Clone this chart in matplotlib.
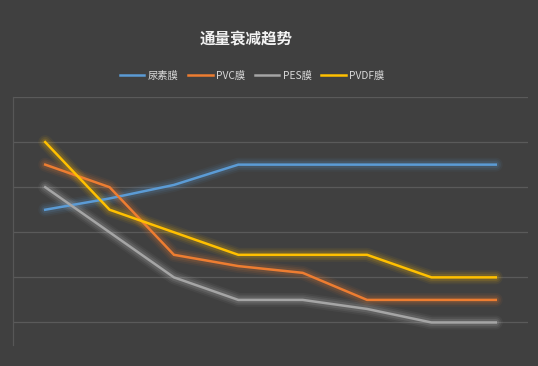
import matplotlib
matplotlib.use("Agg")
import matplotlib.pyplot as plt
import numpy as np

plt.rcParams['font.family'] = ['Noto Sans CJK SC', 'DejaVu Sans']

categories = ['1', '2', '3', '4', '5', '6', '7', '8']
series_names = ['尿素膜', 'PVC膜', 'PES膜', 'PVDF膜']
urea = [2.5, 2.75, 3.05, 3.5, 3.5, 3.5, 3.5, 3.5]
pvc = [3.5, 3.0, 1.5, 1.25, 1.1, 0.5, 0.5, 0.5]
pes = [3.0, 2.0, 1.0, 0.5, 0.5, 0.3, 0.0, 0.0]
pvdf = [4.0, 2.5, 2.0, 1.5, 1.5, 1.5, 1.0, 1.0]
colors = ['#5B9BD5', '#ED7D31', '#A5A5A5', '#FFC000']
glow_colors = ['#5B9BD5', '#ED7D31', '#C8C8C8', '#FFC000']

bg = '#404040'
fig = plt.figure(figsize=(5.38, 3.66), dpi=100, facecolor=bg)
ax = fig.add_axes([13/538, 1-345/366, (528-13)/538, (345-97)/366])
ax.set_facecolor(bg)

x = np.arange(len(categories))
handles = []
for vals, c, gc, name in zip([urea, pvc, pes, pvdf], colors, glow_colors, series_names):
    for lw, a in [(10, 0.06), (7.5, 0.09), (5, 0.13)]:
        ax.plot(x, vals, color=gc, lw=lw, alpha=a, solid_capstyle='round',
                solid_joinstyle='round', zorder=2)
    h, = ax.plot(x, vals, color=c, lw=1.8, solid_joinstyle='miter', zorder=3, label=name)
    handles.append(h)

ax.set_xlim(-0.5, len(categories) - 0.5)
ax.set_ylim(-0.5, 5)
ax.set_yticks([0, 1, 2, 3, 4, 5])
ax.set_xticks([])
ax.tick_params(left=False, labelleft=False)
ax.grid(axis='y', color='#5A5A5A', lw=0.9)
ax.set_axisbelow(True)
for s in ['top', 'right', 'bottom']:
    ax.spines[s].set_visible(False)
ax.spines['left'].set_color('#575757')
ax.spines['left'].set_linewidth(0.9)

fig.text(246.5/538, 1-40/366, '通量衰减趋势', ha='center', va='center',
         fontsize=11.2, fontweight='bold', color='#F2F2F2')

leg = fig.legend(handles=handles, labels=series_names, loc='center',
                 bbox_to_anchor=(252/538, 1-76/366), ncol=4, frameon=False,
                 fontsize=7.4, handlelength=2.4, handletextpad=0.35,
                 columnspacing=0.9)
for t in leg.get_texts():
    t.set_color('#D9D9D9')

fig.savefig('out.png', dpi=100, facecolor=bg)
